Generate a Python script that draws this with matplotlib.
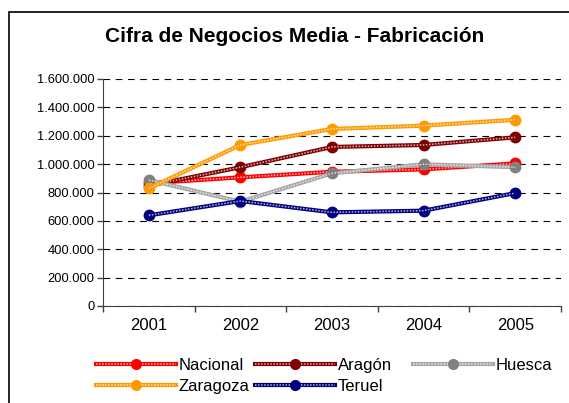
import numpy as np
import matplotlib
matplotlib.use("Agg")
import matplotlib.pyplot as plt
from matplotlib.ticker import FuncFormatter, FixedLocator
from matplotlib.lines import Line2D
from matplotlib.patches import Rectangle
from matplotlib.legend_handler import HandlerTuple

plt.rcParams['font.family'] = ['Liberation Sans', 'DejaVu Sans']

years = ["2001", "2002", "2003", "2004", "2005"]
nacional = [865000, 907000, 946000, 963000, 1005000]
aragon = [848000, 978000, 1121000, 1135000, 1189000]
huesca = [888000, 735000, 935000, 999000, 978000]
zaragoza = [829000, 1135000, 1248000, 1271000, 1313000]
teruel = [639000, 740000, 660000, 672000, 796000]

series = [
    ("Nacional", nacional, "#FF0000", "#FF0000"),
    ("Aragón", aragon, "#800000", "#800000"),
    ("Huesca", huesca, "#A6A6A6", "#808080"),
    ("Zaragoza", zaragoza, "#FF9900", "#FF9900"),
    ("Teruel", teruel, "#000080", "#000080"),
]

fig = plt.figure(figsize=(5.69, 4.03), dpi=100)
# outer chart frame
fig.patches.append(Rectangle((9/569, -0.1), 1.2, 1 - 12/403 + 0.1, transform=fig.transFigure,
                             fill=False, edgecolor="black", linewidth=1.2))
ax = fig.add_axes([103/569, 1 - 306/403, 458/569, 227/403])

x = np.arange(len(years))
handles = {}
for name, vals, lc, mc in series:
    ax.plot(x, vals, color=lc, lw=3, marker="o", markersize=7.5,
            markerfacecolor=mc, markeredgecolor=mc, solid_capstyle="butt")
    ax.plot(x, vals, color="white", lw=1.1, alpha=0.7, dashes=(1, 1))
    h1 = Line2D([], [], color=lc, lw=3)
    h2 = Line2D([], [], color="white", lw=1.1, alpha=0.7, dashes=(1, 1))
    h3 = Line2D([], [], ls="none", marker="o", markersize=7, color=mc)
    handles[name] = (h1, h2, h3)

ax.set_ylim(0, 1600000)
ax.set_xlim(-0.5, len(years) - 0.5)
ax.set_yticks(np.arange(0, 1600001, 200000))
ax.yaxis.set_major_formatter(FuncFormatter(lambda v, p: f"{int(v):,}".replace(",", ".")))
ax.yaxis.grid(True, color="black", lw=0.8, dashes=(6, 5))
ax.set_axisbelow(True)

ax.xaxis.set_major_locator(FixedLocator(np.arange(-0.5, len(years), 1)))
ax.xaxis.set_minor_locator(FixedLocator(x))
ax.set_xticklabels([], minor=False)
ax.set_xticklabels(years, minor=True)
ax.tick_params(axis="x", which="minor", length=0, labelsize=12, pad=9)
ax.tick_params(axis="x", which="major", length=4, width=1, color="#404040")
ax.tick_params(axis="y", length=4, width=1, color="#404040", labelsize=9.3, pad=2)

for s in ["top", "right"]:
    ax.spines[s].set_visible(False)
for s in ["left", "bottom"]:
    ax.spines[s].set_color("#404040")

fig.text(295/569, 1 - 37/403, "Cifra de Negocios Media - Fabricación", ha="center", va="center",
         fontsize=15, fontweight="bold")

# legend laid out in fixed columns like the original
columns = [(["Nacional", "Zaragoza"], 96), (["Aragón", "Teruel"], 255), (["Huesca"], 413)]
for names, xpos in columns:
    leg = fig.legend([handles[n] for n in names], names,
                     handler_map={tuple: HandlerTuple(ndivide=1, pad=0)},
                     loc="upper left", bbox_to_anchor=(xpos/569, 1 - 358/403), frameon=False,
                     fontsize=12, handlelength=4.8, handletextpad=0.15,
                     labelspacing=0.35, borderpad=0, borderaxespad=0)

fig.savefig("out.png", dpi=100)
